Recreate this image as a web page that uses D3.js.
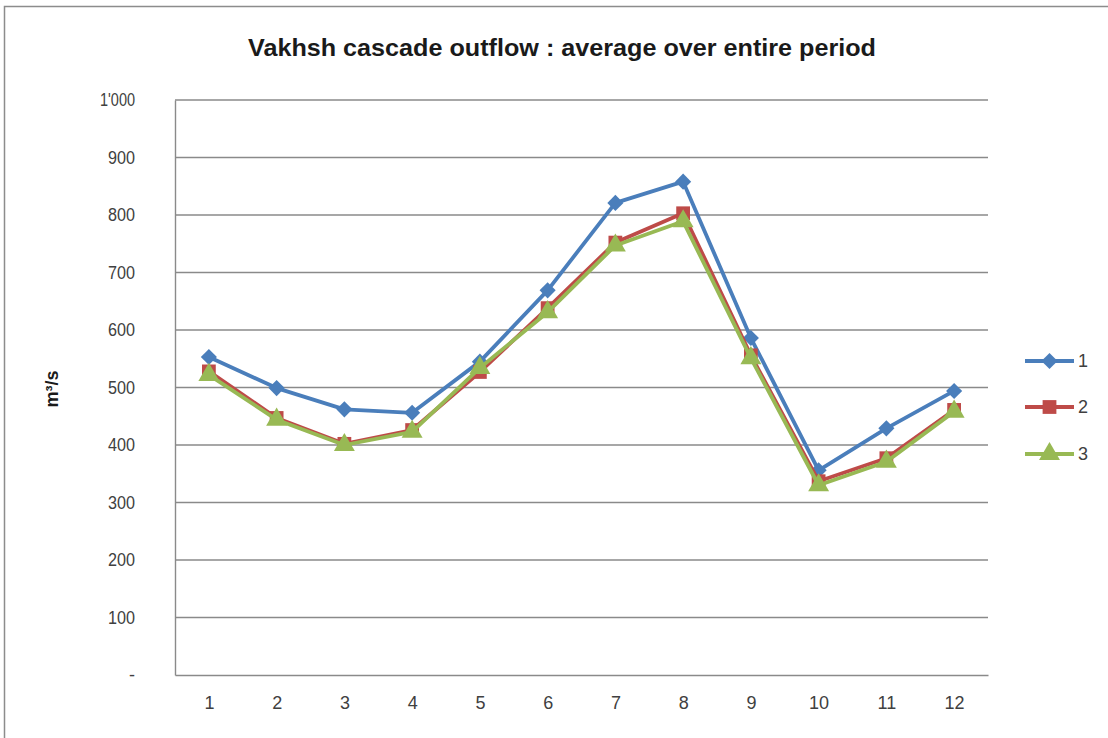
<!DOCTYPE html>
<html>
<head>
<meta charset="utf-8">
<script src="https://cdn.jsdelivr.net/npm/d3@7"></script>
<style>
  html, body { margin: 0; padding: 0; background: #fff; }
  svg { display: block; }
  text { font-family: "Liberation Sans", "DejaVu Sans", sans-serif; }
</style>
</head>
<body>
<svg id="chart" width="1108" height="738"></svg>
<script>
// Monthly average outflow of the Vakhsh cascade (m³/s), three cases
const months = ["1", "2", "3", "4", "5", "6", "7", "8", "9", "10", "11", "12"];
const seriesNames = ["1", "2", "3"];
const series1 = [553, 499, 462, 456, 545, 669, 821, 858, 586, 356, 429, 494];
const series2 = [528, 447, 402, 426, 527, 638, 752, 803, 556, 337, 377, 461];
const series3 = [522, 444, 400, 423, 534, 631, 747, 789, 551, 330, 371, 458];
const yTicks = [0, 100, 200, 300, 400, 500, 600, 700, 800, 900, 1000];
const yTickLabels = ["-", "100", "200", "300", "400", "500", "600", "700", "800", "900", "1'000"];

const colors = ["#4A7EBB", "#BE4B48", "#98B954"];

// square-shaped diamond (a square turned by 45°)
const wideDiamond = {
  draw(context, size) {
    const r = Math.sqrt(size / 2);
    context.moveTo(0, -r);
    context.lineTo(r, 0);
    context.lineTo(0, r);
    context.lineTo(-r, 0);
    context.closePath();
  }
};
const markers = [wideDiamond, d3.symbolSquare, d3.symbolTriangle];
const markerSizes = [130, 190, 190];

const svg = d3.select("#chart");
const W = 1108, H = 738;
const plot = { left: 175, right: 988, top: 100, bottom: 675 };

// outer chart frame
svg.append("rect")
  .attr("x", 4.5).attr("y", 6.5)
  .attr("width", W + 10).attr("height", H + 10)
  .attr("fill", "#fff").attr("stroke", "#8c8c8c").attr("stroke-width", 1.5);

const x = d3.scalePoint().domain(months).range([plot.left, plot.right]).padding(0.5);
const y = d3.scaleLinear().domain([0, 1000]).range([plot.bottom, plot.top]);

// horizontal gridlines
svg.append("g")
  .selectAll("line")
  .data(yTicks.filter(d => d > 0))
  .join("line")
  .attr("x1", plot.left).attr("x2", plot.right)
  .attr("y1", d => y(d)).attr("y2", d => y(d))
  .attr("stroke", "#8a8a8a").attr("stroke-width", 1.4);

// y axis
const yAxis = d3.axisLeft(y)
  .tickValues(yTicks)
  .tickFormat((d, i) => yTickLabels[i])
  .tickSize(0)
  .tickPadding(40);
const gy = svg.append("g").attr("transform", `translate(${plot.left},0)`).call(yAxis);
gy.select(".domain").attr("stroke", "#8a8a8a").attr("stroke-width", 1.4);
gy.selectAll("text")
  .attr("fill", "#404040")
  .style("font-size", "18px")
  .style("font-family", "'Liberation Sans', sans-serif")
  .each(function (d, i) {
    // slightly condensed numerals
    const label = yTickLabels[i];
    if (label.length > 1) {
      d3.select(this)
        .attr("textLength", label.includes("'") ? 35 : 27)
        .attr("lengthAdjust", "spacingAndGlyphs");
    }
  });

// x axis
const xAxis = d3.axisBottom(x).tickSize(0).tickPadding(21);
const gx = svg.append("g").attr("transform", `translate(0,${plot.bottom})`).call(xAxis);
gx.select(".domain").attr("stroke", "#8a8a8a").attr("stroke-width", 1.4);
gx.selectAll("text")
  .attr("fill", "#404040")
  .style("font-size", "18px")
  .style("font-family", "'Liberation Sans', sans-serif");

// title
svg.append("text")
  .attr("x", 562).attr("y", 56)
  .attr("text-anchor", "middle")
  .attr("textLength", 628)
  .attr("lengthAdjust", "spacingAndGlyphs")
  .attr("font-weight", "bold")
  .attr("fill", "#1a1a1a")
  .style("font-size", "24px")
  .text("Vakhsh cascade outflow : average over entire period");

// y axis title
svg.append("text")
  .attr("transform", "translate(58,389) rotate(-90)")
  .attr("text-anchor", "middle")
  .attr("font-weight", "bold")
  .attr("fill", "#1a1a1a")
  .style("font-size", "18px")
  .text("m³/s");

// series lines and markers
const allSeries = [series1, series2, series3];
const line = d3.line().x((d, i) => x(months[i])).y(d => y(d));

allSeries.forEach((vals, si) => {
  const g = svg.append("g");
  g.append("path")
    .datum(vals)
    .attr("d", line)
    .attr("fill", "none")
    .attr("stroke", colors[si])
    .attr("stroke-width", 3.8)
    .attr("stroke-linejoin", "round");
  g.selectAll("path.m")
    .data(vals)
    .join("path")
    .attr("class", "m")
    .attr("transform", (d, i) => `translate(${x(months[i])},${y(d)})`)
    .attr("d", d3.symbol().type(markers[si]).size(markerSizes[si]))
    .attr("fill", colors[si]);
});

// legend
const legendY = [361, 407, 454];
const lg = svg.append("g");
seriesNames.forEach((name, si) => {
  const ly = legendY[si];
  lg.append("line")
    .attr("x1", 1025).attr("x2", 1074)
    .attr("y1", ly).attr("y2", ly)
    .attr("stroke", colors[si]).attr("stroke-width", 3.8);
  lg.append("path")
    .attr("transform", `translate(1049.5,${ly})`)
    .attr("d", d3.symbol().type(markers[si]).size(markerSizes[si]))
    .attr("fill", colors[si]);
  lg.append("text")
    .attr("x", 1078).attr("y", ly + 6)
    .attr("fill", "#404040")
    .style("font-size", "18px")
    .text(name);
});
</script>
</body>
</html>
